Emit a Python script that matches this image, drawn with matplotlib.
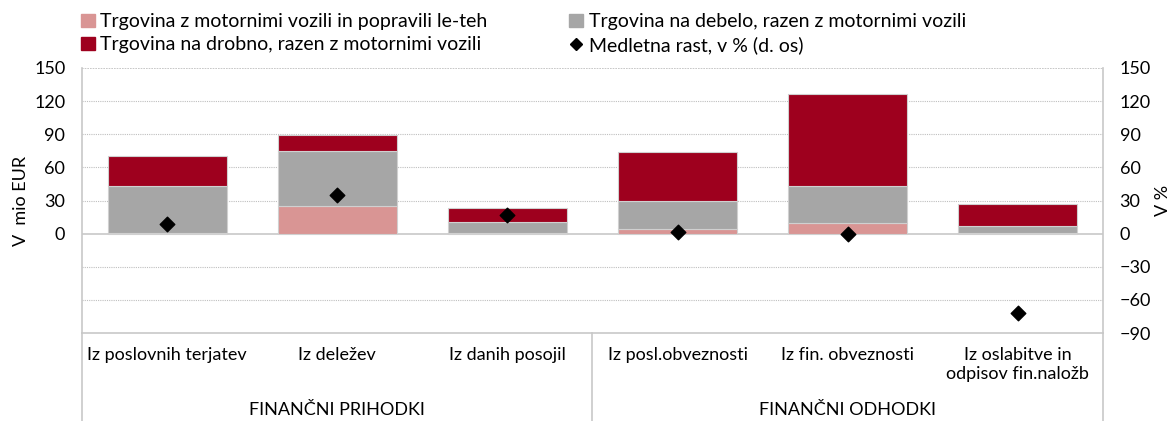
import numpy as np
import matplotlib.pyplot as plt
from matplotlib.lines import Line2D
from matplotlib.patches import Patch

plt.rcParams['font.family'] = ['Lato', 'DejaVu Sans']

categories = ["Iz poslovnih terjatev", "Iz deležev", "Iz danih posojil",
              "Iz posl.obveznosti", "Iz fin. obveznosti", "Iz oslabitve in\nodpisov fin.naložb"]
groups = ["FINANČNI PRIHODKI", "FINANČNI ODHODKI"]
motor = [1, 25, 0.5, 4.5, 9.5, 0.3]
debelo = [42, 50, 10, 25.5, 33.5, 7]
drobno = [27, 14, 13, 44, 83, 19.5]
rast = [9, 35, 16.5, 1.5, 0, -72]

c_motor = '#D99594'
c_debelo = '#A6A6A6'
c_drobno = '#9E001E'
grid_c = '#BFBFBF'

fig = plt.figure(figsize=(11.75, 4.21), dpi=100)
ax = fig.add_axes([0.0698, 0.209, 0.8689, 0.6295])
x = np.arange(len(categories))
w = 0.7
edge = dict(edgecolor='#D0D0D0', linewidth=0.8)
ax.bar(x, motor, w, color=c_motor, **edge, zorder=3)
ax.bar(x, debelo, w, bottom=motor, color=c_debelo, **edge, zorder=3)
bot3 = np.array(motor) + np.array(debelo)
ax.bar(x, drobno, w, bottom=bot3, color=c_drobno, **edge, zorder=3)

ax.set_xlim(-0.5, len(categories) - 0.5)
ax.set_ylim(-90, 150)
ax.set_yticks([0, 30, 60, 90, 120, 150])
for yv in [-60, -30, 30, 60, 90, 120]:
    ax.axhline(yv, color=grid_c, lw=0.8, ls=(0, (1, 1)), zorder=1)
ax.axhline(0, color='#C8C8C8', lw=1.2, zorder=2)
ax.axhline(150, color=grid_c, lw=1.2, ls=(0, (1, 0.6)), zorder=1)
for s in ['left', 'right', 'bottom']:
    ax.spines[s].set_color('#C8C8C8')
    ax.spines[s].set_linewidth(1.2)
ax.spines['top'].set_visible(False)
ax.tick_params(axis='y', length=0, labelsize=13, pad=12, colors='#000000')
ax.set_ylabel("V  mio EUR", fontsize=13, labelpad=4)

ax2 = ax.twinx()
ax2.set_ylim(-90, 150)
ax2.set_yticks(np.arange(-90, 151, 30))
ax2.tick_params(axis='y', length=0, labelsize=13, pad=12)
for s in ax2.spines.values():
    s.set_visible(False)
ax2.set_ylabel("V %", fontsize=13, labelpad=3)
ax2.scatter(x, rast, marker='D', s=55, color='black', zorder=5)

# category axis
ax.set_xticks(x)
ax.set_xticklabels(categories, fontsize=13, va='top', linespacing=1.25)
ax.tick_params(axis='x', length=0, pad=10)
trans = ax.get_xaxis_transform()
for xv in [-0.5, 2.5, 5.5]:
    ax.plot([xv, xv], [0, -0.42], color='#C8C8C8', lw=1.2, transform=trans, clip_on=False)
ax.text(1, -0.29, groups[0], transform=trans, ha='center', va='center', fontsize=13)
ax.text(4, -0.29, groups[1], transform=trans, ha='center', va='center', fontsize=13)

# legend fills by column, so order handles for row-wise reading
handles = [Patch(color=c_motor), Patch(color=c_drobno), Patch(color=c_debelo),
           Line2D([], [], marker='D', color='black', ls='none', markersize=6)]
labels = ["Trgovina z motornimi vozili in popravili le-teh",
          "Trgovina na drobno, razen z motornimi vozili",
          "Trgovina na debelo, razen z motornimi vozili",
          "Medletna rast, v % (d. os)"]
fig.legend(handles, labels, ncol=2, loc='upper left', bbox_to_anchor=(0.054, 1.01),
           frameon=False, fontsize=14, handlelength=0.7, handleheight=0.7,
           handletextpad=0.3, columnspacing=4.2, labelspacing=0.3)

fig.savefig('out.png', dpi=100)
